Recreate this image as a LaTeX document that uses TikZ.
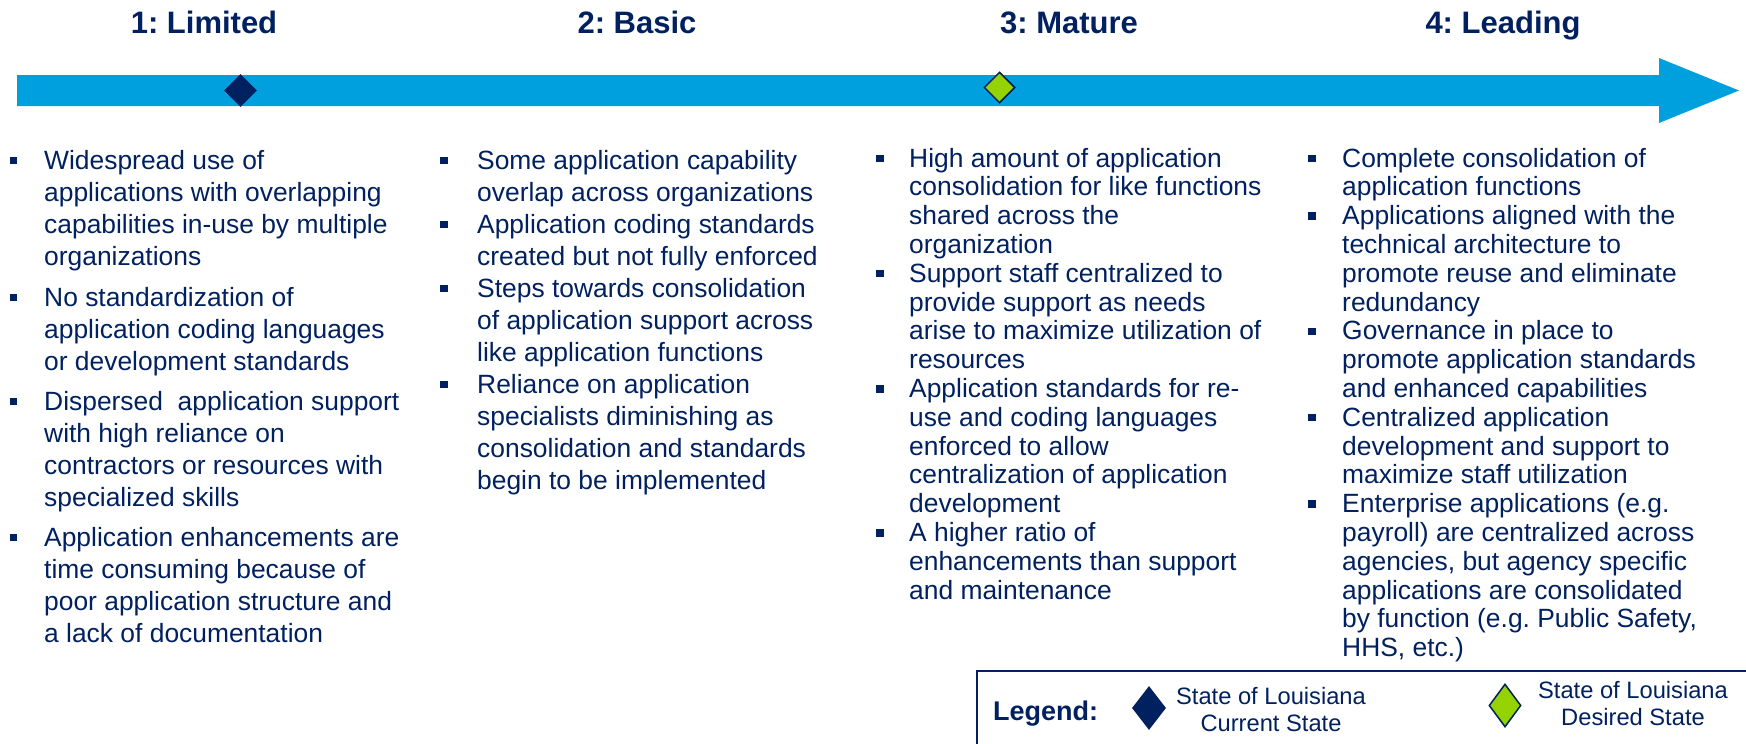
\documentclass[tikz,border=0pt]{standalone}
\usepackage{fontspec}
\setmainfont{Liberation Sans}
\usetikzlibrary{shapes.geometric}
\frenchspacing
\definecolor{navy}{HTML}{002060}
\definecolor{barblue}{HTML}{00A0DF}
\definecolor{limegreen}{RGB}{148,210,0}
\tikzset{
  hdr/.style={font=\fontsize{31}{36}\selectfont\bfseries, text=navy, anchor=base, inner sep=0},
  itemA/.style={font=\fontsize{26.4}{32.3}\selectfont, text=navy, anchor=base west, inner sep=0},
  itemB/.style={font=\fontsize{26.4}{28.8}\selectfont, text=navy, anchor=base west, inner sep=0},
  bul/.style={rectangle, fill=navy, minimum size=7.5pt, inner sep=0},
  legtxt/.style={font=\fontsize{23.7}{27.7}\selectfont, text=navy, anchor=base, inner sep=0},
  mark1/.style={diamond, fill=navy, inner sep=0},
  mark2/.style={diamond, fill=limegreen, draw=navy, line width=1.5pt, inner sep=0},
}
\newcommand{\pb}[1]{\parbox[t]{440pt}{#1}}
\newcommand{\pc}[1]{\parbox[t]{240pt}{\centering #1}}
\begin{document}
\begin{tikzpicture}[x=1pt,y=-1pt]
\useasboundingbox (0,0) rectangle (1746,744);
\clip (0,0) rectangle (1746,744);
% headers
\node[hdr] (h1) at (204,33) {1: Limited};
\node[hdr] (h2) at (637,33) {2: Basic};
\node[hdr] (h3) at (1069,33) {3: Mature};
\node[hdr] (h4) at (1503,33) {4: Leading};
% arrow
\fill[barblue] (17,75) -- (1659,75) -- (1659,58) -- (1739,90.5) -- (1659,123) -- (1659,106) -- (17,106) -- cycle;
\node[mark1, minimum width=33pt, minimum height=33pt] (cur) at (240.5,90.5) {};
\node[mark2, minimum width=31pt, minimum height=31pt] (des) at (999.5,87.5) {};
% column 1
\node[bul] (b11) at (13.5,160.5) {};
\node[itemA] (t11) at (44,169) {\pb{Widespread use of\\applications with overlapping\\capabilities in-use by multiple\\organizations}};
\node[bul] (b12) at (13.5,297.5) {};
\node[itemA] (t12) at (44,306) {\pb{No standardization of\\application coding languages\\or development standards}};
\node[bul] (b13) at (13.5,401.5) {};
\node[itemA] (t13) at (44,410) {\pb{Dispersed\ \ application support\\with high reliance on\\contractors or resources with\\specialized skills}};
\node[bul] (b14) at (13.5,537.5) {};
\node[itemA] (t14) at (44,546) {\pb{Application enhancements are\\time consuming because of\\poor application structure and\\a lack of documentation}};
% column 2
\node[bul] (b21) at (444,160.5) {};
\node[itemA] (t21) at (477,169) {\pb{Some application capability\\overlap across organizations}};
\node[bul] (b22) at (444,224.5) {};
\node[itemA] (t22) at (477,233) {\pb{Application coding standards\\created but not fully enforced}};
\node[bul] (b23) at (444,288.5) {};
\node[itemA] (t23) at (477,297) {\pb{Steps towards consolidation\\of application support across\\like application functions}};
\node[bul] (b24) at (444,384.5) {};
\node[itemA] (t24) at (477,393) {\pb{Reliance on application\\specialists diminishing as\\consolidation and standards\\begin to be implemented}};
% column 3
\node[bul] (b31) at (880,158.5) {};
\node[itemB] (t31) at (909,167) {\pb{High amount of application\\consolidation for like functions\\shared across the\\organization}};
\node[bul] (b32) at (880,273.7) {};
\node[itemB] (t32) at (909,282.2) {\pb{Support staff centralized to\\provide support as needs\\arise to maximize utilization of\\resources}};
\node[bul] (b33) at (880,388.9) {};
\node[itemB] (t33) at (909,397.4) {\pb{Application standards for re-\\use and coding languages\\enforced to allow\\centralization of application\\development}};
\node[bul] (b34) at (880,532.9) {};
\node[itemB] (t34) at (909,541.4) {\pb{A higher ratio of\\enhancements than support\\and maintenance}};
% column 4
\node[bul] (b41) at (1312,158.5) {};
\node[itemB] (t41) at (1342,167) {\pb{Complete consolidation of\\application functions}};
\node[bul] (b42) at (1312,216.1) {};
\node[itemB] (t42) at (1342,224.6) {\pb{Applications aligned with the\\technical architecture to\\promote reuse and eliminate\\redundancy}};
\node[bul] (b43) at (1312,331.3) {};
\node[itemB] (t43) at (1342,339.8) {\pb{Governance in place to\\promote application standards\\and enhanced capabilities}};
\node[bul] (b44) at (1312,417.7) {};
\node[itemB] (t44) at (1342,426.2) {\pb{Centralized application\\development and support to\\maximize staff utilization}};
\node[bul] (b45) at (1312,504.1) {};
\node[itemB] (t45) at (1342,512.6) {\pb{Enterprise applications (e.g.\\payroll) are centralized across\\agencies, but agency specific\\applications are consolidated\\by function (e.g. Public Safety,\\HHS, etc.)}};
% legend
\draw[navy, line width=2pt] (977,800) -- (977,671) -- (1800,671);
\node[font=\fontsize{27}{32}\selectfont\bfseries, text=navy, anchor=base west, inner sep=0] (leg) at (993,720.7) {Legend:};
\node[mark1, minimum width=34pt, minimum height=44pt] (lcur) at (1149,708) {};
\node[legtxt] (lcurt) at (1271,704) {\pc{State of Louisiana\\Current State}};
\node[mark2, minimum width=32pt, minimum height=43pt] (ldes) at (1505,705.5) {};
\node[legtxt] (ldest) at (1633,698) {\pc{State of Louisiana\\Desired State}};
\end{tikzpicture}
\end{document}
